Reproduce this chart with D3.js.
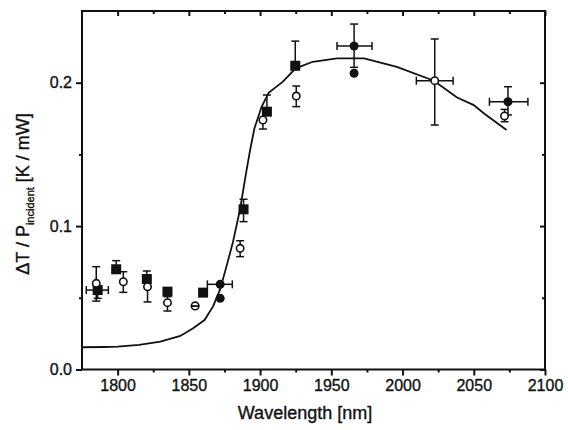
<!DOCTYPE html>
<html>
<head>
<meta charset="utf-8">
<script src="https://cdn.jsdelivr.net/npm/d3@7"></script>
<style>
  body { margin: 0; background: #fff; }
  svg { display: block; }
  text { font-family: "Liberation Sans", Arial, Helvetica, sans-serif; fill: #111; stroke: #111; stroke-width: 0.35px; }
</style>
</head>
<body>
<svg id="chart" width="568" height="430"></svg>
<script>
// ---- data ----
const xTicks = [1800, 1850, 1900, 1950, 2000, 2050, 2100];
const xMinorTicks = [1825, 1875, 1925, 1975, 2025, 2075];
const yTicks = [0.0, 0.1, 0.2];
const yTickLabels = ["0.0", "0.1", "0.2"];
const yMinorTicks = [0.05, 0.15];

// model curve
const curveX = [1775, 1790, 1800, 1815, 1830, 1844, 1853, 1861, 1867, 1872, 1877, 1881, 1886, 1890, 1893, 1896, 1901, 1906, 1916, 1925, 1937, 1954, 1973, 1996, 2022, 2038, 2050, 2057, 2073];
const curveY = [0.0155, 0.0157, 0.0160, 0.0172, 0.0195, 0.0234, 0.0287, 0.0345, 0.0440, 0.0560, 0.0740, 0.0890, 0.1120, 0.1360, 0.1530, 0.1680, 0.1830, 0.1930, 0.2007, 0.2100, 0.2146, 0.2170, 0.2170, 0.2111, 0.2014, 0.1898, 0.1844, 0.1787, 0.1670];

// filled squares
const squares = [
  {x: 1786, y: 0.0554, ylo: 0.0496, xlo: 1778, xhi: 1793.5},
  {x: 1799, y: 0.0699, yhi: 0.0759},
  {x: 1820.5, y: 0.0631, yhi: 0.0687},
  {x: 1835, y: 0.0543},
  {x: 1860, y: 0.0536},
  {x: 1888.4, y: 0.1117, ylo: 0.1031, yhi: 0.1187},
  {x: 1904.8, y: 0.1798, yhi: 0.1914},
  {x: 1924.7, y: 0.2118, yhi: 0.2290}
];

// filled circles
const filledCircles = [
  {x: 1872, y: 0.0594, xlo: 1863, xhi: 1880.5},
  {x: 1872, y: 0.0496},
  {x: 1966, y: 0.2256, ylo: 0.2107, yhi: 0.2409, xlo: 1954, xhi: 1978.6},
  {x: 1966, y: 0.2066},
  {x: 2074, y: 0.1867, ylo: 0.1775, yhi: 0.1972, xlo: 2061, xhi: 2088}
];

// open circles
const openCircles = [
  {x: 1785, y: 0.0601, ylo: 0.0477, yhi: 0.0717},
  {x: 1804, y: 0.0612, ylo: 0.0538, yhi: 0.0682},
  {x: 1821, y: 0.0577, ylo: 0.0471},
  {x: 1835, y: 0.0466, ylo: 0.0408, yhi: 0.0508},
  {x: 1886, y: 0.0845, ylo: 0.0787, yhi: 0.0898},
  {x: 1902, y: 0.1740, ylo: 0.1677},
  {x: 1925.4, y: 0.1907, ylo: 0.1833, yhi: 0.1977},
  {x: 2022.6, y: 0.2014, ylo: 0.1705, yhi: 0.2305, xlo: 2009.7, xhi: 2035.5},
  {x: 2071.6, y: 0.1768, ylo: 0.1728, yhi: 0.1814}
];

// half-filled circle
const halfCircles = [
  {x: 1854.4, y: 0.0443}
];

// ---- layout ----
const svg = d3.select("#chart");
const mLeft = 82, mRight = 545, mTop = 11, mBottom = 369.5;
const x = d3.scaleLinear().domain([1775, 2100]).range([mLeft, mRight]);
const y = d3.scaleLinear().domain([0, 0.25]).range([mBottom, mTop]);

const ink = "#111";

// axes (outward on bottom/left, inward on top/right)
const gB = svg.append("g").attr("transform", `translate(0,${mBottom})`)
  .call(d3.axisBottom(x).tickValues(xTicks).tickSize(6).tickFormat(d3.format("d")));
const gBm = svg.append("g").attr("transform", `translate(0,${mBottom})`)
  .call(d3.axisBottom(x).tickValues(xMinorTicks).tickSize(3).tickFormat(""));
const gL = svg.append("g").attr("transform", `translate(${mLeft},0)`)
  .call(d3.axisLeft(y).tickValues(yTicks).tickSize(6).tickFormat((d, i) => yTickLabels[i]));
const gLm = svg.append("g").attr("transform", `translate(${mLeft},0)`)
  .call(d3.axisLeft(y).tickValues(yMinorTicks).tickSize(3).tickFormat(""));
const gT = svg.append("g").attr("transform", `translate(0,${mTop})`)
  .call(d3.axisTop(x).tickValues(xTicks).tickSize(-5).tickFormat(""));
const gTm = svg.append("g").attr("transform", `translate(0,${mTop})`)
  .call(d3.axisTop(x).tickValues(xMinorTicks).tickSize(-3).tickFormat(""));
const gR = svg.append("g").attr("transform", `translate(${mRight},0)`)
  .call(d3.axisRight(y).tickValues(yTicks).tickSize(-5).tickFormat(""));
const gRm = svg.append("g").attr("transform", `translate(${mRight},0)`)
  .call(d3.axisRight(y).tickValues(yMinorTicks).tickSize(-3).tickFormat(""));

[gB, gBm, gL, gLm, gT, gTm, gR, gRm].forEach(g => {
  g.select(".domain").remove();
  g.selectAll(".tick line").attr("stroke", ink).attr("stroke-width", 2);
});
gB.selectAll(".tick text").attr("font-size", 16).attr("dy", "0.85em").attr("y", 8)
  .attr("font-family", "Liberation Sans, Arial, sans-serif").attr("fill", ink);
gL.selectAll(".tick text").attr("font-size", 16).attr("x", -10)
  .attr("font-family", "Liberation Sans, Arial, sans-serif").attr("fill", ink);

// frame
svg.append("rect").attr("x", mLeft).attr("y", mTop)
  .attr("width", mRight - mLeft).attr("height", mBottom - mTop)
  .attr("fill", "none").attr("stroke", ink).attr("stroke-width", 2);

// curve
const curveData = curveX.map((v, i) => [v, curveY[i]]);
svg.append("path").datum(curveData)
  .attr("d", d3.line().x(d => x(d[0])).y(d => y(d[1])).curve(d3.curveLinear))
  .attr("fill", "none").attr("stroke", ink).attr("stroke-width", 1.8);

// error bars
const cap = 4;
function errorBars(data) {
  const g = svg.append("g").attr("stroke", ink).attr("stroke-width", 1.5).attr("fill", "none");
  data.forEach(d => {
    if (d.ylo !== undefined || d.yhi !== undefined) {
      const y0 = d.ylo !== undefined ? d.ylo : d.y;
      const y1 = d.yhi !== undefined ? d.yhi : d.y;
      g.append("line").attr("x1", x(d.x)).attr("x2", x(d.x)).attr("y1", y(y0)).attr("y2", y(y1));
      if (d.ylo !== undefined) g.append("line").attr("x1", x(d.x) - cap).attr("x2", x(d.x) + cap).attr("y1", y(d.ylo)).attr("y2", y(d.ylo));
      if (d.yhi !== undefined) g.append("line").attr("x1", x(d.x) - cap).attr("x2", x(d.x) + cap).attr("y1", y(d.yhi)).attr("y2", y(d.yhi));
    }
    if (d.xlo !== undefined) {
      g.append("line").attr("x1", x(d.xlo)).attr("x2", x(d.xhi)).attr("y1", y(d.y)).attr("y2", y(d.y));
      [d.xlo, d.xhi].forEach(v => g.append("line").attr("x1", x(v)).attr("x2", x(v)).attr("y1", y(d.y) - cap).attr("y2", y(d.y) + cap));
    }
  });
}
errorBars(openCircles);
errorBars(squares);
errorBars(filledCircles);

// markers
svg.append("g").selectAll("rect").data(squares).join("rect")
  .attr("x", d => x(d.x) - 5).attr("y", d => y(d.y) - 5)
  .attr("width", 10).attr("height", 10).attr("fill", ink);
svg.append("g").selectAll("circle").data(filledCircles).join("circle")
  .attr("cx", d => x(d.x)).attr("cy", d => y(d.y)).attr("r", 4.5).attr("fill", ink);
svg.append("g").selectAll("circle").data(openCircles).join("circle")
  .attr("cx", d => x(d.x)).attr("cy", d => y(d.y)).attr("r", 3.7)
  .attr("fill", "#fff").attr("stroke", ink).attr("stroke-width", 1.6);
const hg = svg.append("g");
halfCircles.forEach(d => {
  hg.append("circle").attr("cx", x(d.x)).attr("cy", y(d.y)).attr("r", 3.8)
    .attr("fill", "#fff").attr("stroke", ink).attr("stroke-width", 1.6);
  hg.append("rect").attr("x", x(d.x) - 3.8).attr("y", y(d.y) - 0.8).attr("width", 7.6).attr("height", 1.8).attr("fill", ink);
});

// axis titles
svg.append("text").attr("x", 305).attr("y", 419).attr("text-anchor", "middle")
  .attr("font-size", 18).text("Wavelength [nm]");

const yl = svg.append("text").attr("transform", `translate(29,194) rotate(-90)`)
  .attr("text-anchor", "middle").attr("font-size", 18);
yl.append("tspan").text("ΔT / P");
yl.append("tspan").attr("font-size", 11).attr("dy", 5).text("incident");
yl.append("tspan").attr("dy", -5).text(" [K / mW]");
</script>
</body>
</html>
